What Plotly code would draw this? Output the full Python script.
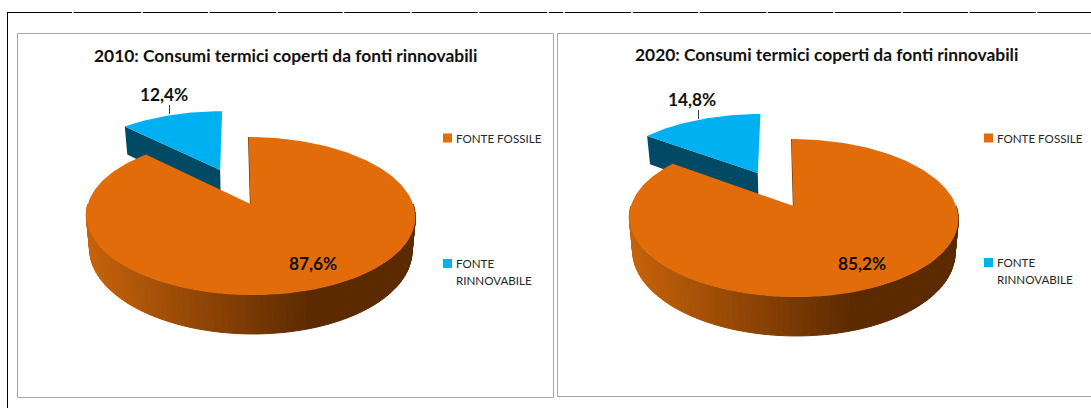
import numpy as np
import plotly.graph_objects as go

# ---- data -------------------------------------------------------------
years = ["2010", "2020"]
categories = ["FONTE FOSSILE", "FONTE RINNOVABILE"]
fossil_share = [87.6, 85.2]
renewable_share = [12.4, 14.8]
title_text = "Consumi termici coperti da fonti rinnovabili"

# ---- styles and layout --------------------------------------------------
W, H = 1091, 408
ORANGE, BLUE, TEAL = "#E26B0A", "#00B0F0", "#004A66"
SIDE_LIGHT, SIDE_DARK = (198, 98, 10), (92, 42, 0)
FONT = "Lato"
TEXT = "#111111"

# one entry per chart: pie projection centre and placement of its texts
panels = [
    dict(cx=250.5, cy=204, frame=(17.5, 33.5, 553.5, 397.5), title=(285, 55.5),
         lab_small=(164, 94), lab_big=(312.5, 263), leader=(169.5, 105, 114),
         swatch_x=447.5, text_x=453.5, leg_y=(138, 263.5, 280.7)),
    dict(cx=793.5, cy=206, frame=(557.5, 33.5, 1100, 396.5), title=(826.5, 54.5),
         lab_small=(691.5, 99), lab_big=(862, 263), leader=(698.5, 110, 119),
         swatch_x=988.5, text_x=994.5, leg_y=(138, 262.5, 279.5)),
]
RX, A, K, SKEW = 162.6, 77.2, 0.152, -2.2   # perspective of the pie plane
DEPTH, SHRINK, EXPLODE = 33.0, 0.98, 0.51

top_rule_breaks = [73, 142, 209, 277, 343.5, 411, 478.5, 548, 564, 632, 699, 767, 834, 902, 969, 1036.5]


def project(p, sx, cy_):
    """Perspective map of a point in the unit pie plane to axis coordinates."""
    d = 1 + K * cy_
    return p["cx"] + (RX * sx + SKEW * cy_) / d, p["cy"] - A * cy_ / d


def lower(p, x, y, cy_):
    return p["cx"] + (x - p["cx"]) * SHRINK, y + DEPTH / (1 + K * cy_)


fig = go.Figure()


def poly(xs, ys, color, name, line=0.0):
    fig.add_trace(go.Scatter(x=list(xs), y=list(ys), mode="lines", fill="toself", fillcolor=color,
                             line=dict(color=color, width=line), name=name,
                             hoverinfo="skip", showlegend=False))


for p, year, fossil, renew in zip(panels, years, fossil_share, renewable_share):
    end = 2 * np.pi * fossil / (fossil + renew)     # fossil runs clockwise from 12 o'clock

    # --- exploded renewable slice
    mid = (end + 2 * np.pi) / 2
    ex, ey = EXPLODE * np.sin(mid), EXPLODE * np.cos(mid)
    th = np.linspace(end, 2 * np.pi, 60)
    bx, by = project(p, np.sin(th) + ex, np.cos(th) + ey)
    ax_, ay_ = project(p, ex, ey)
    lx0, ly0 = lower(p, bx[0], by[0], np.cos(end) + ey)
    lx1, ly1 = lower(p, ax_, ay_, ey)
    poly([bx[0], ax_, lx1, lx0, bx[0]], [by[0], ay_, ly1, ly0, by[0]], TEAL, categories[1] + " side")
    poly([ax_, *bx, ax_], [ay_, *by, ay_], BLUE, f"{categories[1]} {year}")

    # --- fossil slice: thin cut edge, shaded rim, top face
    tx, ty = project(p, 0.0, 1.0)
    ox, oy = project(p, 0.0, 0.0)
    fig.add_trace(go.Scatter(x=[tx, ox, ox], y=[ty, oy, oy + 2], mode="lines",
                             line=dict(color="#6E3503", width=1.2), hoverinfo="skip", showlegend=False))
    edges = np.radians(np.arange(90, 272, 2.0))
    for t0, t1 in zip(edges[:-1], edges[1:]):
        tt = np.array([t0, t1])
        x, y = project(p, np.sin(tt), np.cos(tt))
        xl, yl = lower(p, x, y, np.cos(tt))
        f = float(np.clip((x.mean() - (p["cx"] - 163)) / 223, 0, 1))
        rgb = [round(a + (b - a) * f) for a, b in zip(SIDE_LIGHT, SIDE_DARK)]
        poly([x[0], x[1], xl[1], xl[0], x[0]], [y[0], y[1], yl[1], yl[0], y[0]],
             f"rgb({rgb[0]},{rgb[1]},{rgb[2]})", categories[0] + " rim", line=1.0)
    th = np.linspace(0, end, 240)
    fx, fy = project(p, np.sin(th), np.cos(th))
    poly([ox, *fx, ox], [oy, *fy, oy], ORANGE, f"{categories[0]} {year}")

    # --- leader line and legend swatches
    lx, y0, y1 = p["leader"]
    fig.add_trace(go.Scatter(x=[lx, lx], y=[y0, y1], mode="lines", line=dict(color="#404040", width=1),
                             hoverinfo="skip", showlegend=False))
    fig.add_trace(go.Scatter(x=[p["swatch_x"]] * 2, y=[p["leg_y"][0], p["leg_y"][1]], mode="markers",
                             marker=dict(symbol="square", size=9, color=[ORANGE, BLUE], line=dict(width=0)),
                             hoverinfo="skip", showlegend=False))

    # --- frame
    x0, y0, x1, y1 = p["frame"]
    fig.add_shape(type="rect", x0=x0, y0=y0, x1=x1, y1=y1, xref="x", yref="y",
                  line=dict(color="#A6A6A6", width=1), layer="below")

    # --- texts
    def note(xy, text, size, bold=False, anchor="center", color=TEXT):
        fig.add_annotation(x=xy[0], y=xy[1], text=f"<b>{text}</b>" if bold else text, showarrow=False,
                           xanchor=anchor, yanchor="middle", xref="x", yref="y",
                           font=dict(family=FONT, size=size, color=color))

    note(p["title"], f"{year}: {title_text}", 17.4, bold=True)
    note(p["lab_small"], f"{renew:.1f}%".replace(".", ","), 17.3, bold=True)
    note(p["lab_big"], f"{fossil:.1f}%".replace(".", ","), 17.3, bold=True)
    first, second = categories[1].split(" ")
    note((p["text_x"], p["leg_y"][0]), categories[0], 11.6, anchor="left", color="#262626")
    note((p["text_x"], p["leg_y"][1]), first, 11.6, anchor="left", color="#262626")
    note((p["text_x"], p["leg_y"][2]), second, 11.6, anchor="left", color="#262626")

# page rules: broken rule across the top and solid rule on the left
rx, ry = [8.0], [12.5]
for b in top_rule_breaks:
    rx += [b - 0.8, None, b + 0.8]
    ry += [12.5, None, 12.5]
rx.append(W)
ry.append(12.5)
fig.add_trace(go.Scatter(x=rx, y=ry, mode="lines", line=dict(color="#000000", width=1),
                         hoverinfo="skip", showlegend=False))
fig.add_trace(go.Scatter(x=[7.5, 7.5], y=[12, H], mode="lines", line=dict(color="#000000", width=1),
                         hoverinfo="skip", showlegend=False))

fig.update_layout(width=W, height=H, margin=dict(l=0, r=0, t=0, b=0), autosize=False,
                  paper_bgcolor="white", plot_bgcolor="white", showlegend=False,
                  xaxis=dict(range=[0, W], visible=False, fixedrange=True),
                  yaxis=dict(range=[H, 0], visible=False, fixedrange=True))
fig.write_html("out.html", config={"displayModeBar": False},
               default_width=W, default_height=H,
               post_script="document.body.style.margin='0';document.body.style.overflow='hidden';")
